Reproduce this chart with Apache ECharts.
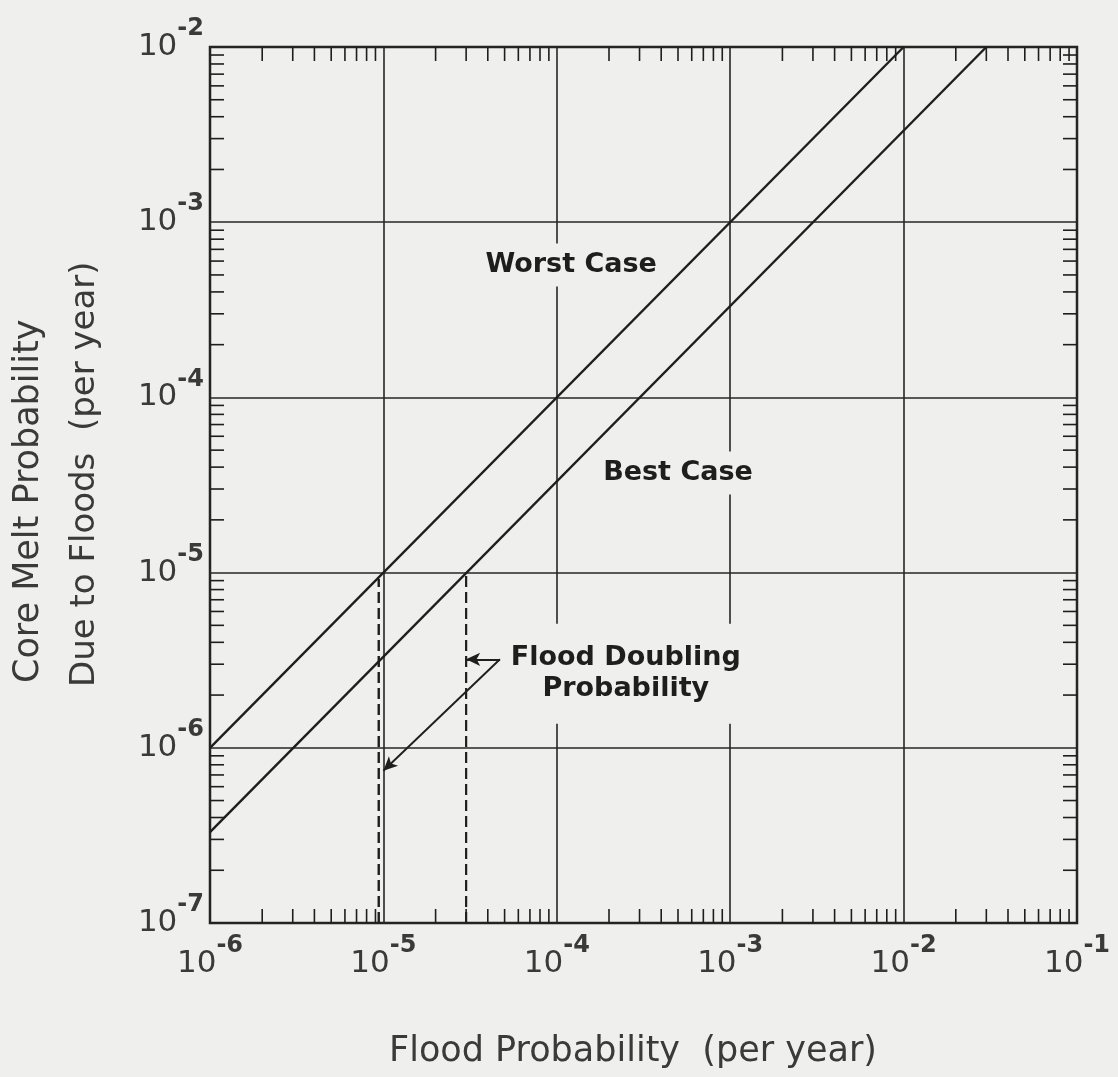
<!DOCTYPE html>
<html><head><meta charset="utf-8">
<script src="https://cdn.jsdelivr.net/npm/echarts@6/dist/echarts.min.js"></script>
<style>html,body{margin:0;padding:0;background:#efefed}#c{width:1118px;height:1077px}</style>
</head><body><div id="c"></div>
<script>
// ---- data ----
const xDecades = [1e-6, 1e-5, 1e-4, 1e-3, 1e-2, 1e-1];
const yDecades = [1e-7, 1e-6, 1e-5, 1e-4, 1e-3, 1e-2];
const worstX = [1e-6, 1e-2];
const worstY = [1e-6, 1e-2];
const bestX = [1e-6, 3e-2];
const bestY = [3.3e-7, 1e-2];
const doublingLowX = [9.4e-6, 9.4e-6];
const doublingLowY = [1e-7, 9.2e-6];
const doublingHighX = [3e-5, 3e-5];
const doublingHighY = [1e-7, 1e-5];
const arrowFrom = [4.7e-5, 3.2e-6];
const arrowToX = [3e-5, 1e-5];
const arrowToY = [3.2e-6, 7.4e-7];
const noteText = ['Worst Case', 'Best Case', 'Flood Doubling\nProbability'];
const noteX = [1.21e-4, 5.0e-4, 2.5e-4];
const noteY = [5.7e-4, 3.7e-5, 2.65e-6];
const xTitle = 'Flood Probability  (per year)';
const yTitle1 = 'Core Melt Probability';
const yTitle2 = 'Due to Floods  (per year)';

// ---- helpers ----
const BG = '#efefed', INK = '#1e1e1e', LABEL = '#3a3a3a';
function minorTicks(dec) {
  const out = [];
  for (let i = 0; i < dec.length - 1; i++) for (let k = 2; k <= 9; k++) out.push(k * dec[i]);
  return out;
}
const xMinor = minorTicks(xDecades);
const yMinor = minorTicks(yDecades);
const xMin = xDecades[0], xMax = xDecades[xDecades.length - 1];
const yMin = yDecades[0], yMax = yDecades[yDecades.length - 1];
const TICK = 14;
function pow10Label(v) {
  const e = Math.round(Math.log10(v));
  return '{b|10}{s|' + (e < 0 ? '-' + (-e) : e) + '}';
}
const rich = {
  b: {fontSize: 31, fontFamily: 'DejaVu Sans', lineHeight: 60, color: LABEL},
  s: {fontSize: 24, fontWeight: 'bold', fontFamily: 'DejaVu Sans', lineHeight: 24, verticalAlign: 'top', color: LABEL}
};
function pair(xs, ys) { return xs.map((x, i) => [x, ys[i]]); }
const notePadding = [[6, 6], [6, 6], [22, 4, 16, 4]];

const chart = echarts.init(document.getElementById('c'), null, {renderer: 'canvas'});
chart.setOption({
  backgroundColor: BG,
  animation: false,
  grid: {left: 210, right: 41, top: 47, bottom: 154, show: true, borderColor: INK, borderWidth: 2.5, backgroundColor: 'transparent'},
  xAxis: {
    type: 'log', logBase: 10, min: xMin, max: xMax,
    axisLine: {show: false}, axisTick: {show: false},
    splitLine: {show: true, lineStyle: {color: '#262626', width: 1.6}},
    axisLabel: {formatter: pow10Label, rich: rich, margin: 11}
  },
  yAxis: {
    type: 'log', logBase: 10, min: yMin, max: yMax,
    axisLine: {show: false}, axisTick: {show: false},
    splitLine: {show: true, lineStyle: {color: '#262626', width: 1.6}},
    axisLabel: {formatter: pow10Label, rich: rich, margin: 6}
  },
  graphic: [
    {type: 'text', x: 633, y: 1052, style: {text: xTitle, font: '35px "DejaVu Sans"', fill: LABEL, textAlign: 'center', textVerticalAlign: 'middle'}},
    {type: 'text', x: 29, y: 683, rotation: Math.PI / 2, style: {text: yTitle1, font: '35px "DejaVu Sans"', fill: LABEL, textAlign: 'left', textVerticalAlign: 'middle'}},
    {type: 'text', x: 85, y: 687, rotation: Math.PI / 2, style: {text: yTitle2, font: '34px "DejaVu Sans"', fill: LABEL, textAlign: 'left', textVerticalAlign: 'middle'}}
  ],
  series: [
    {
      type: 'custom', coordinateSystem: 'cartesian2d', clip: false, silent: true, z: 5,
      data: xMinor.map(v => [v, yMin]),
      renderItem: (p, api) => {
        const v = api.value(0);
        const b = api.coord([v, yMin]), t = api.coord([v, yMax]);
        const st = {stroke: INK, lineWidth: 1.6};
        return {type: 'group', children: [
          {type: 'line', shape: {x1: b[0], y1: b[1], x2: b[0], y2: b[1] - TICK}, style: st},
          {type: 'line', shape: {x1: t[0], y1: t[1], x2: t[0], y2: t[1] + TICK}, style: st}
        ]};
      }
    },
    {
      type: 'custom', coordinateSystem: 'cartesian2d', clip: false, silent: true, z: 5,
      data: yMinor.map(v => [xMin, v]),
      renderItem: (p, api) => {
        const v = api.value(1);
        const l = api.coord([xMin, v]), r = api.coord([xMax, v]);
        const st = {stroke: INK, lineWidth: 1.6};
        return {type: 'group', children: [
          {type: 'line', shape: {x1: l[0], y1: l[1], x2: l[0] + TICK, y2: l[1]}, style: st},
          {type: 'line', shape: {x1: r[0], y1: r[1], x2: r[0] - TICK, y2: r[1]}, style: st}
        ]};
      }
    },
    {name: 'Worst Case', type: 'line', data: pair(worstX, worstY), symbol: 'none', z: 6, lineStyle: {color: INK, width: 2.4}},
    {name: 'Best Case', type: 'line', data: pair(bestX, bestY), symbol: 'none', z: 6, lineStyle: {color: INK, width: 2.4}},
    {type: 'line', data: pair(doublingLowX, doublingLowY), symbol: 'none', z: 6, lineStyle: {color: INK, width: 2.4, type: [11, 5]}},
    {type: 'line', data: pair(doublingHighX, doublingHighY), symbol: 'none', z: 6, lineStyle: {color: INK, width: 2.2, type: [11, 5]},
      markLine: {
        silent: true, animation: false, symbol: ['none', 'arrow'], symbolSize: [10, 14],
        label: {show: false},
        lineStyle: {color: INK, width: 1.9, type: 'solid'},
        data: arrowToX.map((x, i) => [{coord: arrowFrom}, {coord: [x, arrowToY[i]]}])
      }
    },
    {
      type: 'scatter', symbolSize: 0, z: 10, silent: true,
      itemStyle: {opacity: 1, color: BG},
      data: noteX.map((x, i) => ({value: [x, noteY[i]], label: {padding: notePadding[i]}})),
      label: {
        show: true, position: 'inside', opacity: 1,
        formatter: p => noteText[p.dataIndex],
        fontFamily: 'DejaVu Sans', fontWeight: 'bold', fontSize: 27, lineHeight: 31,
        color: '#1e1e1e', backgroundColor: BG
      }
    }
  ]
});
</script></body></html>
